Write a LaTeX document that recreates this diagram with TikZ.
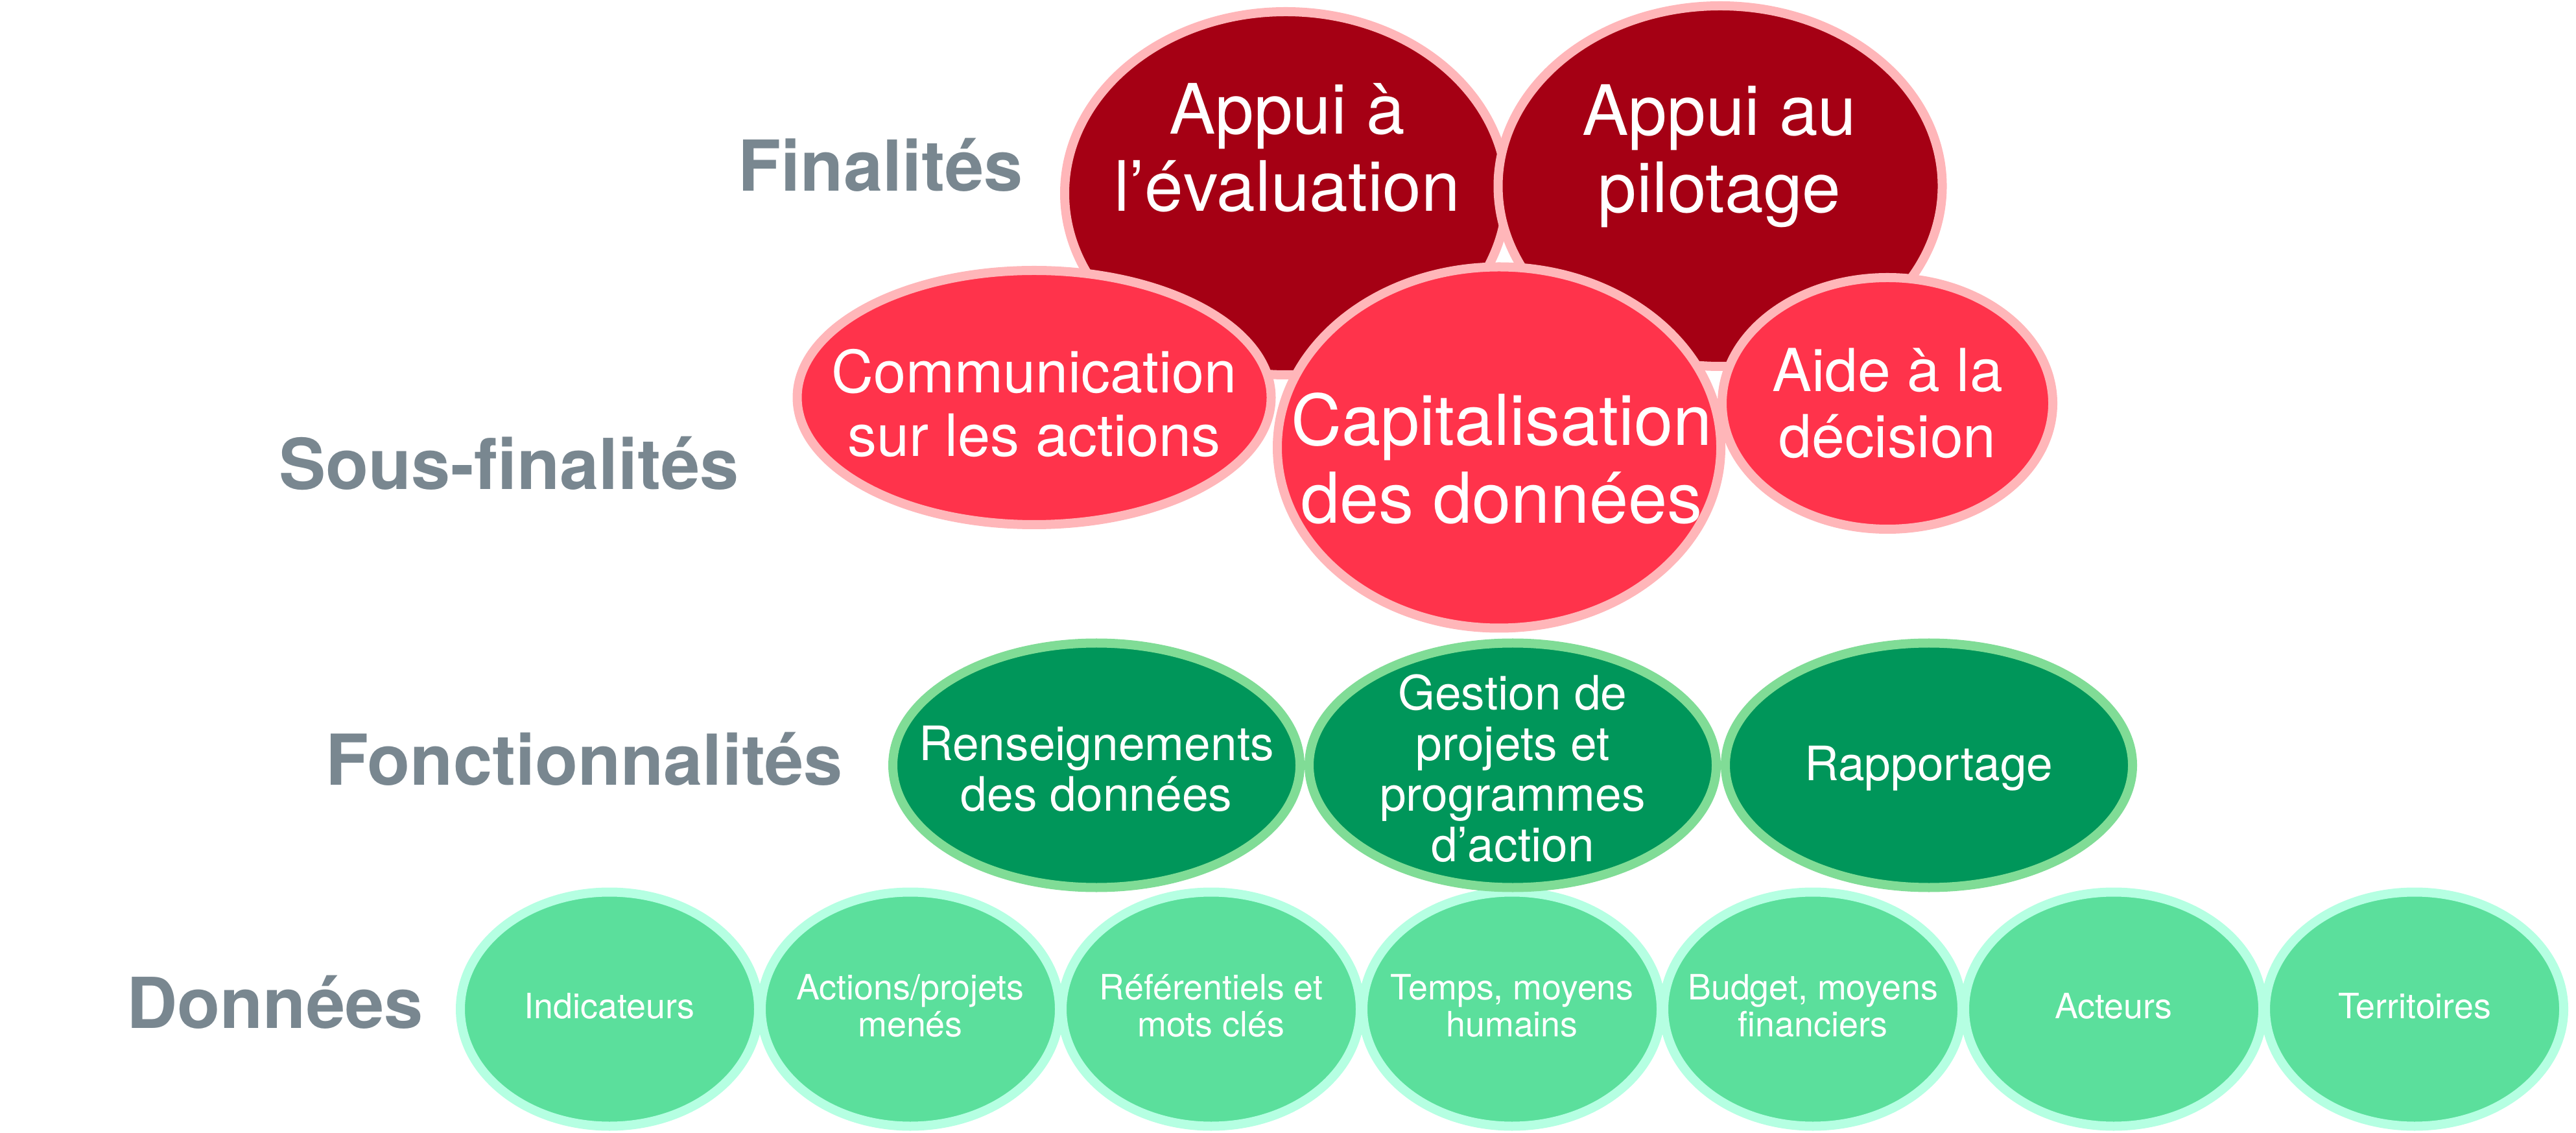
\documentclass[tikz,border=0pt]{standalone}
\usepackage{fontspec}
\setmainfont{TeX Gyre Heros}
\usetikzlibrary{shapes.geometric, positioning}

\definecolor{finfill}{RGB}{165,0,20}
\definecolor{sousfill}{RGB}{255,51,75}
\definecolor{redrim}{RGB}{255,182,185}
\definecolor{fctfill}{RGB}{0,150,90}
\definecolor{fctrim}{RGB}{128,220,150}
\definecolor{donfill}{RGB}{91,223,156}
\definecolor{donrim}{RGB}{181,255,226}
\definecolor{labgray}{RGB}{121,135,144}

\begin{document}
\begin{tikzpicture}[node distance=4.64cm]
\tikzstyle{bubble}=[ellipse, inner sep=0pt, line width=0.14cm]
\tikzstyle{fin}=[bubble, fill=finfill, draw=redrim, minimum width=6.82cm, minimum height=5.6cm]
\tikzstyle{sous}=[bubble, fill=sousfill, draw=redrim]
\tikzstyle{fct}=[bubble, fill=fctfill, draw=fctrim, minimum width=6.28cm, minimum height=3.77cm]
\tikzstyle{don}=[bubble, fill=donfill, draw=donrim, minimum width=4.6cm, minimum height=3.61cm]
\tikzstyle{bubtext}=[text=white, align=center, inner sep=0pt]
\tikzstyle{fcttext}=[bubtext, yshift=-0.05cm, font=\fontsize{20.8}{22.2}\selectfont]
\tikzstyle{dontext}=[bubtext, yshift=0.05cm, font=\fontsize{15.3}{16.2}\selectfont]
\tikzstyle{level}=[text=labgray, anchor=base, inner sep=0pt, font=\bfseries\fontsize{30.8}{34}\selectfont]

\useasboundingbox (0,0) rectangle (39.73,17.46);

% finalites
\node[fin] (eval) at (19.83,14.48) {};
\node[fin, minimum width=6.85cm, minimum height=5.56cm] (pilot) at (26.53,14.59) {};

% sous-finalites
\node[sous, minimum width=7.31cm, minimum height=3.92cm] (comm) at (15.95,11.33) {};
\node[sous, minimum width=5.10cm, minimum height=3.88cm] (aide) at (29.11,11.24) {};
\node[sous, minimum width=6.84cm, minimum height=5.57cm] (capi) at (23.12,10.56) {};

% donnees
\node[don] (ind) at (9.40,1.90) {};
\node[don, right of=ind] (act) {};
\node[don, right of=act] (ref) {};
\node[don, right of=ref] (temps) {};
\node[don, right of=temps] (budget) {};
\node[don, right of=budget] (acteurs) {};
\node[don, right of=acteurs] (terr) {};

% fonctionnalites
\node[fct] (rens) at (16.91,5.66) {};
\node[fct, right of=rens, node distance=6.42cm] (gest) {};
\node[fct, right of=gest, node distance=6.42cm] (rapp) {};

% textes
\node[bubtext, font=\fontsize{30.5}{33.9}\selectfont] (evaltxt) at (19.85,15.18) {Appui à\\l’évaluation};
\node[bubtext, font=\fontsize{30.5}{33.9}\selectfont] (pilottxt) at (26.52,15.05) {Appui au\\pilotage};
\node[bubtext, font=\fontsize{25.6}{27.9}\selectfont, yshift=-0.09cm] (commtxt) at (comm) {Communication\\sur les actions};
\node[bubtext, font=\fontsize{26}{29}\selectfont] (aidetxt) at (aide) {Aide à la\\décision};
\node[bubtext, font=\fontsize{30.8}{34.1}\selectfont] (capitxt) at (23.16,10.39) {Capitalisation\\des données};

\node[fcttext] (renstxt) at (rens) {Renseignements\\des données};
\node[fcttext] (gesttxt) at (gest) {Gestion de\\projets et\\programmes\\d’action};
\node[fcttext] (rapptxt) at (rapp) {Rapportage};

\node[dontext] at (ind) {Indicateurs};
\node[dontext] at (act) {Actions/projets\\menés};
\node[dontext] at (ref) {Référentiels et\\mots clés};
\node[dontext] at (temps) {Temps, moyens\\humains};
\node[dontext] at (budget) {Budget, moyens\\financiers};
\node[dontext] at (acteurs) {Acteurs};
\node[dontext] at (terr) {Territoires};

% niveaux
\node[level] (lfin) at (13.58,14.51) {Finalités};
\node[level] (lsous) at (7.85,9.91) {Sous-finalités};
\node[level] (lfct) at (9.01,5.36) {Fonctionnalités};
\node[level] (ldon) at (4.24,1.61) {Données};
\end{tikzpicture}
\end{document}
